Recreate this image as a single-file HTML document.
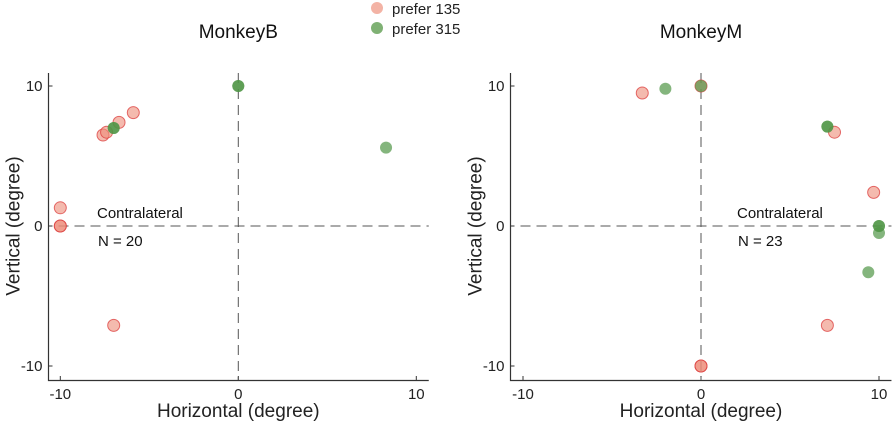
<!DOCTYPE html>
<html><head><meta charset="utf-8"><style>
body{margin:0;background:#fff;width:892px;height:422px;overflow:hidden;font-family:"Liberation Sans",Arial,sans-serif}
</style></head><body>
<svg id="chart" width="892" height="422" xmlns="http://www.w3.org/2000/svg">
<g>
<circle cx="377" cy="8" r="6" fill="#f3b3a5"/>
<text x="392" y="14" font-size="15" fill="#222">prefer 135</text>
<circle cx="377" cy="28" r="6" fill="#7fb174"/>
<text x="392" y="34" font-size="15" fill="#222">prefer 315</text>
</g>
</svg>
<script>
const leftPinkX=[-10,-10,-10,-7.6,-7.4,-6.7,-5.9,-7.0];
const leftPinkY=[1.3,0,0,6.5,6.7,7.4,8.1,-7.1];
const leftGreenX=[-7.0,-7.0,0,0,8.3];
const leftGreenY=[7.0,7.0,10,10,5.6];
const rightPinkX=[-3.3,0,7.5,9.7,7.1,0,0];
const rightPinkY=[9.5,10,6.7,2.4,-7.1,-10,-10];
const rightGreenX=[-2.0,0,7.1,7.1,10,10,10,9.4];
const rightGreenY=[9.8,10,7.1,7.1,0,0,-0.5,-3.3];
const ticks=[-10,0,10];
const tickLabels=["-10","0","10"];
const svg=document.getElementById('chart');
const NS="http://www.w3.org/2000/svg";
function mk(t,a,p){const e=document.createElementNS(NS,t);for(const k in a)e.setAttribute(k,a[k]);(p||svg).appendChild(e);return e;}
function panel(name,x0,axisX,title,nText,txX,pX,pY,gX,gY){
  const sx=v=>x0+v*17.8, sy=v=>226-v*14;
  const g=mk('g',{});
  
  
  const t=mk('text',{x:x0,y:38,'font-size':19,'text-anchor':'middle',fill:'#111'},g);t.textContent=title;
  
  
  const ax=mk('path',{d:`M${axisX},73V380.5H${sx(10.7)}`,stroke:'#333','stroke-width':1.2,fill:'none'},g);
  
  
  ticks.forEach((v,i)=>{
    const xt=mk('text',{x:sx(v),y:399,'font-size':15,'text-anchor':'middle',fill:'#222'},g);xt.textContent=tickLabels[i];
    
    
    mk('line',{x1:sx(v),x2:sx(v),y1:380.5,y2:376,stroke:'#333'},g);
    const yt=mk('text',{x:axisX-6,y:sy(v)+5,'font-size':15,'text-anchor':'end',fill:'#222'},g);yt.textContent=tickLabels[i];
    
    
    mk('line',{x1:axisX,x2:axisX+4,y1:sy(v),y2:sy(v),stroke:'#333'},g);
  });
  const xl=mk('text',{x:sx(0),y:417,'font-size':19,'text-anchor':'middle',fill:'#222'},g);xl.textContent='Horizontal (degree)';
  
  
  const yl=mk('text',{x:0,y:0,'font-size':19,'text-anchor':'middle',fill:'#222',transform:`translate(${axisX-29},226) rotate(-90)`},g);yl.textContent='Vertical (degree)';
  
  
  const hd=mk('line',{x1:axisX+10,x2:sx(10.7),y1:sy(0),y2:sy(0),stroke:'#555','stroke-dasharray':'10,6'},g);
  
  
  const vd=mk('line',{x1:sx(0),x2:sx(0),y1:73,y2:380,stroke:'#555','stroke-dasharray':'10,6'},g);
  
  
  const c=mk('text',{x:txX,y:218,'font-size':15,fill:'#111'},g);c.textContent='Contralateral';
  
  
  const n=mk('text',{x:txX+1,y:246,'font-size':15,fill:'#111'},g);n.textContent=nText;
  
  
  pX.forEach((v,i)=>{const p=mk('circle',{cx:sx(v),cy:sy(pY[i]),r:6,fill:'rgba(236,140,120,0.6)',stroke:'rgba(220,60,60,0.75)','stroke-width':1},g);
    
    });
  gX.forEach((v,i)=>{const p=mk('circle',{cx:sx(v),cy:sy(gY[i]),r:6,fill:'rgba(80,150,70,0.7)',stroke:'none'},g);
    
    });
}
panel('monkey-b',238.3,48.5,'MonkeyB','N = 20',97,leftPinkX,leftPinkY,leftGreenX,leftGreenY);
panel('monkey-m',701,510.5,'MonkeyM','N = 23',737,rightPinkX,rightPinkY,rightGreenX,rightGreenY);
</script>
</body></html>
